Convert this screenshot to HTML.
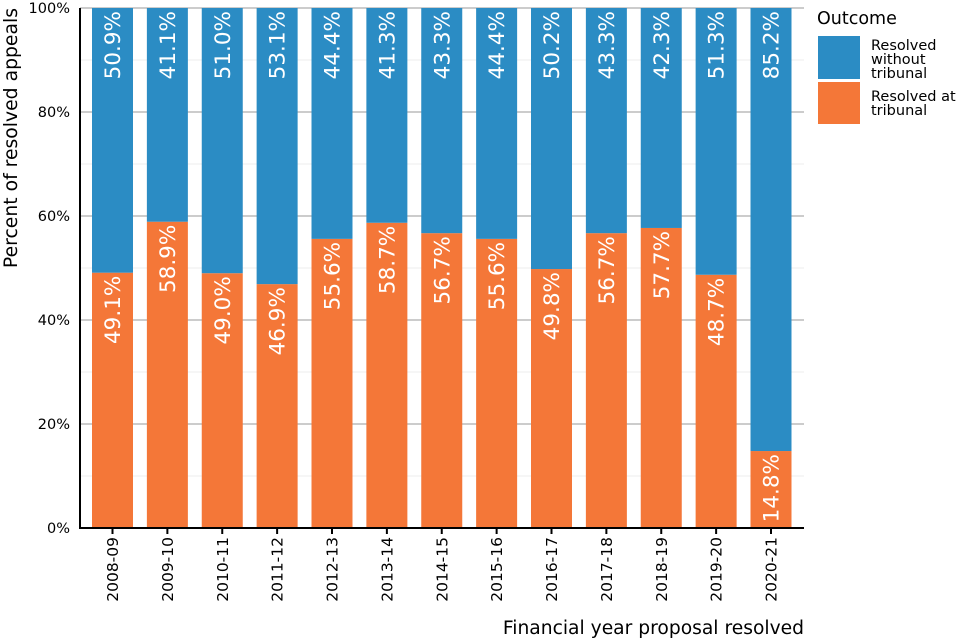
<!DOCTYPE html>
<html><head><meta charset="utf-8"><style>
body{margin:0;background:#fff}
svg{display:block;font-family:"DejaVu Sans","Liberation Sans",sans-serif}
</style></head><body>
<svg id="chart" width="960" height="640" viewBox="0 0 960 640">
<g id="grid"></g>
<g id="bars"></g>
<g id="axes"></g>
<text x="0" y="0" transform="translate(17,8) rotate(-90)" text-anchor="end" font-size="18.8" fill="#000">Percent of resolved appeals</text>
<text x="804" y="634" text-anchor="end" font-size="18.7" fill="#000">Financial year proposal resolved</text>
<g>
<text x="817" y="24" font-size="17.5">Outcome</text>
<rect x="818" y="36" width="42" height="43" fill="#2b8cc4"/>
<rect x="818" y="82" width="42" height="42" fill="#f47738"/>
<text font-size="14.5"><tspan x="871" y="50">Resolved</tspan><tspan x="871" y="64">without</tspan><tspan x="871" y="78">tribunal</tspan></text>
<text font-size="14.5"><tspan x="871" y="101">Resolved at</tspan><tspan x="871" y="115">tribunal</tspan></text>
</g>
</svg>
<script>
const categories=["2008-09","2009-10","2010-11","2011-12","2012-13","2013-14","2014-15","2015-16","2016-17","2017-18","2018-19","2019-20","2020-21"];
const atTribunal=[49.1,58.9,49.0,46.9,55.6,58.7,56.7,55.6,49.8,56.7,57.7,48.7,14.8];
const withoutTribunal=[50.9,41.1,51.0,53.1,44.4,41.3,43.3,44.4,50.2,43.3,42.3,51.3,85.2];
const yTicks=[0,20,40,60,80,100];
const yMinor=[10,30,50,70,90];
const NS="http://www.w3.org/2000/svg";
const X0=80,X1=804,Y0=528,Y1=8;
const y=v=>Y0-(v/100)*(Y0-Y1);
const step=(771-112.5)/(categories.length-1);
const xc=i=>112.5+i*step;
const BW=41;
function mk(tag,attrs,parent){const e=document.createElementNS(NS,tag);for(const k in attrs)e.setAttribute(k,attrs[k]);parent.appendChild(e);return e;}
const grid=document.getElementById('grid'),bars=document.getElementById('bars'),axes=document.getElementById('axes');
yMinor.forEach(v=>{const l=mk('line',{x1:X0,x2:X1,y1:y(v),y2:y(v),stroke:'#ececec','stroke-width':1},grid);

});
yTicks.forEach(v=>{const l=mk('line',{x1:X0,x2:X1,y1:y(v),y2:y(v),stroke:'#cccccc','stroke-width':2},grid);


const t=mk('text',{x:70,y:y(v)+5,'text-anchor':'end','font-size':14.5},axes);t.textContent=v+'%';

});
categories.forEach((c,i)=>{
const cx=xc(i);
const a=atTribunal[i],w=withoutTribunal[i];
const r1=mk('rect',{x:cx-BW/2,y:y(a),width:BW,height:Y0-y(a),fill:'#f47738'},bars);


const r2=mk('rect',{x:cx-BW/2,y:y(a+w),width:BW,height:y(a)-y(a+w),fill:'#2b8cc4'},bars);


[[a,a],[a+w,w]].forEach(([top,val],k)=>{
const t=mk('text',{transform:`translate(${cx+7.5},${y(top)+3}) rotate(-90)`,'text-anchor':'end','font-size':21.5,fill:'#fff'},bars);
t.textContent=val.toFixed(1)+'%';

});
const tk=mk('line',{x1:cx,x2:cx,y1:Y0,y2:Y0+6,stroke:'#000','stroke-width':2},axes);


const lb=mk('text',{transform:`translate(${cx+5.5},${Y0+9}) rotate(-90)`,'text-anchor':'end','font-size':15.5},axes);
lb.textContent=c;


});
const ax=mk('line',{x1:X0,x2:X0,y1:Y1,y2:Y0+1,stroke:'#000','stroke-width':2},axes);


const bx=mk('line',{x1:X0-1,x2:X1,y1:Y0,y2:Y0,stroke:'#000','stroke-width':2},axes);


</script>
</body></html>
